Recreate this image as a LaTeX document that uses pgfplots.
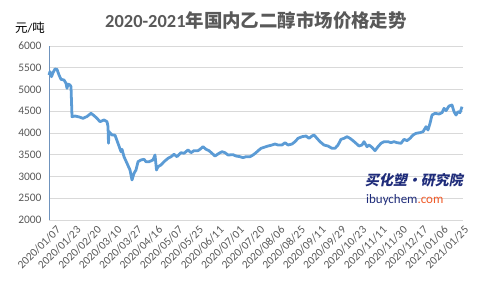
\documentclass[border=0pt]{standalone}
\usepackage{pgfplots}
\pgfplotsset{compat=1.18}
\usepackage{fontspec}
\setmainfont{Carlito}
\newfontfamily\cjk{Noto Sans CJK SC}
\newfontfamily\cjkslant{Noto Sans CJK SC}[FakeSlant=0.2]
\definecolor{linecol}{HTML}{5B9BD5}
\definecolor{gridcol}{HTML}{D9D9D9}
\definecolor{txtcol}{HTML}{595959}
\definecolor{axiscol}{HTML}{6F93BD}
\definecolor{navy}{HTML}{1F2C7A}
\definecolor{orng}{HTML}{F05A28}
\begin{document}
\begin{tikzpicture}[x=1bp,y=1bp]
\useasboundingbox (0,0) rectangle (477,286);
\node[anchor=base, text=txtcol, font=\fontsize{18.5}{21}\selectfont\bfseries] at (256,259) {2020-2021{\cjk\bfseries 年国内乙二醇市场价格走势}};
\node[anchor=base west, inner sep=0pt, font=\fontsize{12.5}{14}\selectfont] at (15,254) {{\cjk 元}/{\cjk 吨}};
\begin{axis}[
  at={(49bp,66bp)}, anchor=south west,
  scale only axis, width=414bp, height=174bp,
  xmin=0, xmax=414, ymin=2000, ymax=6000,
  ytick={2000,2500,...,6000},
  xtick={3,23.4,43.8,64.2,84.6,105,125.4,145.8,166.2,186.6,207,227.4,247.8,268.2,288.6,309,329.4,349.8,370.2,390.6,411},
  xticklabels={2020/01/07,2020/01/23,2020/02/20,2020/03/10,2020/03/27,2020/04/16,2020/05/07,2020/05/25,2020/06/11,2020/07/01,2020/07/20,2020/08/06,2020/08/25,2020/09/11,2020/09/29,2020/10/23,2020/11/11,2020/11/30,2020/12/17,2021/01/06,2021/01/25},
  axis x line*=bottom, axis y line*=left,
  x axis line style={draw=gridcol, line width=0.8pt},
  y axis line style={draw=axiscol, line width=0.8pt},
  ymajorgrids, grid style={draw=gridcol, line width=0.8pt},
  major tick length=0,
  tick label style={font=\fontsize{11.5}{12}\selectfont, text=txtcol},
  xticklabel style={rotate=45, anchor=north east, inner sep=1bp, yshift=-5bp},
  yticklabel style={xshift=-4bp},
  /pgf/number format/assume math mode=true,
  /pgf/number format/1000 sep={},
  clip=false,
]
\addplot[linecol, line width=2.8pt, line join=round] table {
x y
0 5333
1 5410
2.5 5294
4 5387
6 5471
8 5464
10 5333
12 5234
15 5218
17 5142
18 5027
19 5126
21 5103
22 5064
23 4375
26 4390
30 4370
34 4337
38 4380
42 4452
45 4400
48 4337
51 4260
55 4300
58 4260
59 4150
59.5 3763
60 4030
63 3954
66 3950
69 3763
72 3570
73 3625
75 3455
78 3303
81 3150
83 2920
85 3073
87 3150
89 3340
92 3380
95 3395
97 3340
100 3340
104 3380
106 3494
107.5 3150
109 3227
112 3265
115 3340
119 3418
122 3455
125 3510
128 3455
132 3548
135 3533
139 3610
142 3548
145 3594
149 3594
151 3625
154 3685
157 3625
160 3594
163 3533
166 3471
170 3533
173 3570
176 3548
179 3494
184 3502
187 3471
191 3455
194 3433
197 3455
201 3455
204 3494
207 3548
210 3610
212 3648
215 3670
219 3701
223 3724
226 3747
229 3724
233 3724
236 3778
239 3724
243 3747
246 3800
249 3877
253 3915
257 3931
260 3877
263 3931
265 3954
268 3877
271 3800
275 3724
279 3701
283 3648
286 3648
289 3724
292 3855
295 3877
298 3915
301 3877
304 3824
307 3763
310 3701
313 3724
315 3800
318 3685
320 3724
323 3670
326 3594
329 3685
332 3763
335 3800
339 3800
342 3778
345 3800
348 3778
352 3763
355 3855
358 3824
361 3877
364 3954
367 3993
371 4008
374 4030
377 4145
379 4069
381 4222
383 4413
386 4452
390 4436
393 4467
395 4567
397 4513
400 4620
403 4643
405 4490
407 4413
409 4490
411 4467
413 4605
};
\node[anchor=base east, inner sep=0pt, text=navy, font=\fontsize{14}{16}\selectfont\cjkslant\bfseries] at (axis cs:414,2800) {买化塑·研究院};
\node[anchor=base west, inner sep=0pt, font=\fontsize{13}{15}\selectfont] at (axis cs:317,2385) {\textcolor{navy}{ibuychem}\textcolor{orng}{.com}};
\end{axis}
\end{tikzpicture}
\end{document}
